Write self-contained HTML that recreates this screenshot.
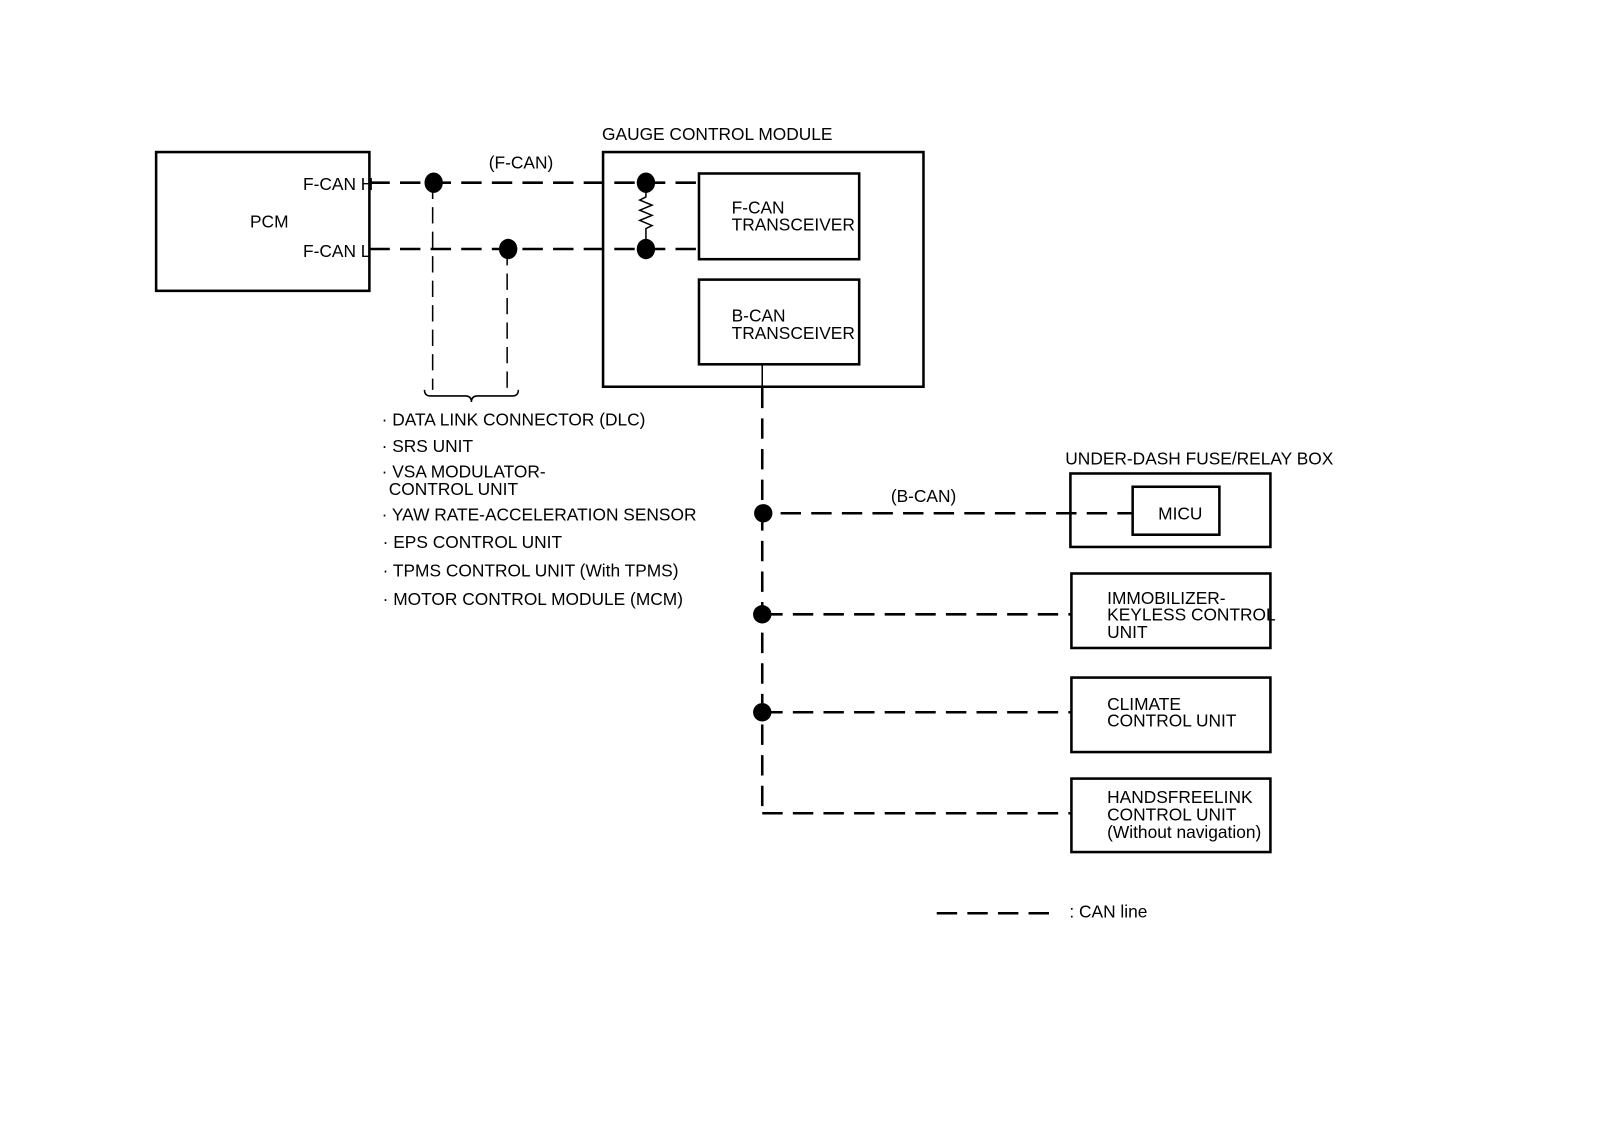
<!DOCTYPE html>
<html><head><meta charset="utf-8"><style>body{margin:0;background:#fff}svg{display:block}text{font-family:"Liberation Sans",sans-serif;font-size:17px;fill:#000}</style></head><body>
<svg width="1600" height="1148" viewBox="0 0 1568 1125" xmlns="http://www.w3.org/2000/svg">
<g fill="none" stroke="#000" stroke-width="2.5">
<rect x="153" y="149" width="209" height="136"/>
<rect x="591" y="149" width="314" height="230"/>
<rect x="685" y="170" width="157" height="84"/>
<rect x="685" y="274" width="157" height="83"/>
<rect x="1049" y="464" width="196" height="72"/>
<rect x="1110" y="477" width="85" height="47"/>
<rect x="1050" y="562" width="195" height="73"/>
<rect x="1050" y="664" width="195" height="73"/>
<rect x="1050" y="763" width="195" height="72"/>
</g>
<g fill="none" stroke="#000" stroke-width="2.5" stroke-dasharray="20 10">
<line x1="362" y1="179" x2="685" y2="179"/>
<line x1="362" y1="244" x2="685" y2="244"/>
<line x1="747" y1="380" x2="747" y2="797"/>
<line x1="765" y1="503" x2="1110" y2="503"/>
<line x1="747" y1="602" x2="1050" y2="602"/>
<line x1="747" y1="698" x2="1050" y2="698"/>
<line x1="747" y1="797" x2="1050" y2="797"/>
<line x1="918" y1="895" x2="1035" y2="895"/>
</g>
<g fill="none" stroke="#000" stroke-width="1.5" stroke-dasharray="16 8">
<line x1="424" y1="179" x2="424" y2="382"/>
<line x1="497" y1="244" x2="497" y2="382"/>
</g>
<g fill="none" stroke="#000" stroke-width="1.5">
<line x1="747" y1="357" x2="747" y2="379"/>
<path d="M416 382 q0 6 6 6 h34 q6 0 6 6 q0-6 6-6 h34 q6 0 6-6"/>
<path d="M633 179 v14 l-6 3 l12 5 l-12 5 l12 5 l-12 5 l12 5 l-6 3 v19"/>
<line x1="748" y1="503" x2="755" y2="503" stroke-width="2.5"/>
</g>
<g fill="#000">
<ellipse cx="425" cy="179" rx="9" ry="10"/>
<ellipse cx="498" cy="244" rx="9" ry="10"/>
<ellipse cx="633" cy="179" rx="9" ry="10"/>
<ellipse cx="633" cy="244" rx="9" ry="10"/>
<circle cx="748" cy="503" r="9"/>
<circle cx="747" cy="602" r="9"/>
<circle cx="747" cy="698" r="9"/>
</g>
<text x="245" y="223">PCM</text>
<text x="297" y="186">F-CAN H</text>
<text x="297" y="252">F-CAN L</text>
<text x="479" y="165">(F-CAN)</text>
<text x="590" y="137">GAUGE CONTROL MODULE</text>
<text x="717" y="209">F-CAN</text>
<text x="717" y="226">TRANSCEIVER</text>
<text x="717" y="315">B-CAN</text>
<text x="717" y="332">TRANSCEIVER</text>
<text x="374" y="417">· DATA LINK CONNECTOR (DLC)</text>
<text x="374" y="443">· SRS UNIT</text>
<text x="374" y="468">· VSA MODULATOR-</text>
<text x="381" y="485">CONTROL UNIT</text>
<text x="374" y="510">· YAW RATE-ACCELERATION SENSOR</text>
<text x="375" y="537">· EPS CONTROL UNIT</text>
<text x="375" y="565">· TPMS CONTROL UNIT (With TPMS)</text>
<text x="375" y="593">· MOTOR CONTROL MODULE (MCM)</text>
<text x="1044" y="455">UNDER-DASH FUSE/RELAY BOX</text>
<text x="873" y="492">(B-CAN)</text>
<text x="1135" y="509">MICU</text>
<text x="1085" y="592">IMMOBILIZER-</text>
<text x="1085" y="608">KEYLESS CONTROL</text>
<text x="1085" y="625">UNIT</text>
<text x="1085" y="696">CLIMATE</text>
<text x="1085" y="712">CONTROL UNIT</text>
<text x="1085" y="787">HANDSFREELINK</text>
<text x="1085" y="804">CONTROL UNIT</text>
<text x="1085" y="821">(Without navigation)</text>
<text x="1048" y="899">: CAN line</text>
</svg>
</body></html>
